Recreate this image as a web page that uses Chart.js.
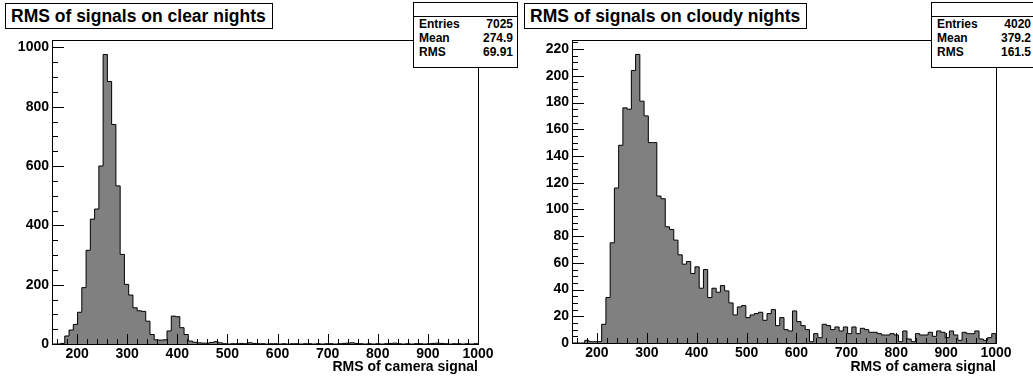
<!DOCTYPE html>
<html>
<head>
<meta charset="utf-8">
<script src="https://cdn.jsdelivr.net/npm/chart.js@4.4.1/dist/chart.umd.min.js"></script>
<style>
    body { margin: 0; background: #fff; width: 1033px; height: 378px; overflow: hidden; position: relative; font-family: 'Liberation Sans', Arial, sans-serif; }
    canvas { position: absolute; top: 0; }
    .title { position: absolute; top: 3px; height: 24px; line-height: 24px; padding: 0 6px 0 5px; border: 1px solid #000; background: #fff; font-weight: bold; font-size: 17.5px; white-space: nowrap; z-index: 2; }
    .stats { position: absolute; top: 2px; width: 103px; height: 64px; border: 1px solid #000; background: #fff; font-weight: bold; font-size: 12px; z-index: 2; }
    .stats .head { height: 13px; border-bottom: 1px solid #000; }
    .stats .row { display: flex; justify-content: space-between; height: 14px; line-height: 14px; padding: 0 4px 0 5px; }
</style>
</head>
<body>
<canvas id="clearChart" width="516" height="378" style="left:0"></canvas>
<canvas id="cloudyChart" width="513" height="378" style="left:520px"></canvas>

<div class="title" style="left:5px">RMS of signals on clear nights</div>
<div class="title" style="left:524px">RMS of signals on cloudy nights</div>

<div class="stats" style="left:413px">
    <div class="head"></div>
    <div class="row"><span>Entries</span><span>7025</span></div>
    <div class="row"><span>Mean</span><span>274.9</span></div>
    <div class="row"><span>RMS</span><span>69.91</span></div>
</div>
<div class="stats" style="left:931px">
    <div class="head"></div>
    <div class="row"><span>Entries</span><span>4020</span></div>
    <div class="row"><span>Mean</span><span>379.2</span></div>
    <div class="row"><span>RMS</span><span>161.5</span></div>
</div>

<script>
// Binning: 100 bins from 150 to 1000
const xMin = 150;
const binWidth = 8.5;

// Counts per bin
const clearCounts = [
    0, 0, 2, 27, 47, 66, 107, 190, 316, 421,
    455, 600, 976, 885, 740, 533, 302, 201, 165, 122,
    112, 110, 77, 32, 14, 13, 14, 44, 94, 92,
    55, 32, 10, 6, 4, 3, 3, 5, 8, 4,
    1, 0, 1, 1, 2, 1, 4, 2, 1, 1,
    0, 1, 1, 0, 1, 0, 1, 1, 0, 1,
    1, 0, 1, 0, 1, 1, 0, 1, 2, 3,
    4, 2, 1, 0, 1, 0, 1, 0, 1, 2,
    3, 1, 0, 1, 0, 1, 1, 0, 1, 2,
    3, 2, 1, 0, 1, 1, 0, 1, 0, 1
];
const cloudyCounts = [
    0, 0, 0, 2, 1, 1, 1, 14, 34, 75,
    116, 148, 176, 175, 204, 216, 181, 170, 150, 150,
    110, 108, 87, 85, 77, 66, 59, 61, 52, 57,
    41, 55, 34, 41, 38, 43, 39, 30, 21, 27,
    28, 19, 21, 22, 23, 17, 22, 25, 13, 19,
    10, 9, 24, 16, 13, 10, 1, 7, 4, 14,
    13, 10, 12, 9, 12, 7, 12, 7, 11, 10,
    8, 8, 7, 6, 6, 7, 6, 1, 9, 3,
    1, 7, 6, 6, 8, 5, 9, 8, 4, 9,
    6, 2, 8, 7, 7, 9, 3, 2, 4, 7
];

// Tick labels
const xTicks = [200, 300, 400, 500, 600, 700, 800, 900, 1000];
const clearYTicks = [0, 200, 400, 600, 800, 1000];
const cloudyYTicks = [0, 20, 40, 60, 80, 100, 120, 140, 160, 180, 200, 220];
const xTitle = 'RMS of camera signal';

const font = { family: "'Liberation Sans', Arial, sans-serif", size: 14, weight: 'bold' };

// ROOT style frame with inside tick marks
const rootFrame = {
    id: 'rootFrame',
    afterDraw(chart, args, opts) {
        const { ctx, chartArea: a, scales: { x, y } } = chart;
        ctx.save();
        ctx.strokeStyle = '#000';
        ctx.lineWidth = 1;
        ctx.beginPath();
        for (let v = 160; v <= 1000; v += 20) {
            const px = Math.round(x.getPixelForValue(v)) + 0.5;
            const len = v % 100 === 0 ? 10 : 5;
            ctx.moveTo(px, a.bottom);
            ctx.lineTo(px, a.bottom - len);
        }
        for (let v = 0; v <= y.max; v += opts.yMinor) {
            const py = Math.round(y.getPixelForValue(v)) + 0.5;
            const len = v % opts.yMajor === 0 ? 12 : 6;
            ctx.moveTo(a.left, py);
            ctx.lineTo(a.left + len, py);
        }
        ctx.stroke();
        ctx.strokeRect(Math.round(a.left) + 0.5, Math.round(a.top) + 0.5, Math.round(a.right - a.left), Math.round(a.bottom - a.top));
        ctx.restore();
    }
};

function drawHist(id, counts, yTicks, yMajor, yMinor, padRight, xHeight) {
    const points = counts.map((c, i) => ({ x: xMin + i * binWidth, y: c }));
    points.push({ x: xMin + counts.length * binWidth, y: 0 });

    new Chart(document.getElementById(id).getContext('2d'), {
        type: 'line',
        data: {
            datasets: [{
                data: points,
                stepped: true,
                fill: 'origin',
                backgroundColor: '#808080',
                borderColor: '#000',
                borderWidth: 1,
                pointRadius: 0
            }]
        },
        plugins: [rootFrame],
        options: {
            responsive: false,
            animation: false,
            layout: { padding: { top: 40, right: padRight, left: 0, bottom: 0 } },
            plugins: {
                legend: { display: false },
                tooltip: { enabled: false },
                rootFrame: { yMajor: yMajor, yMinor: yMinor }
            },
            scales: {
                x: {
                    type: 'linear',
                    min: xMin,
                    max: xMin + counts.length * binWidth,
                    afterBuildTicks: s => { s.ticks = xTicks.map(v => ({ value: v })); },
                    afterFit: s => { s.height = xHeight; },
                    grid: { display: false, drawTicks: false },
                    border: { display: false },
                    ticks: { color: '#000', font: font, padding: 2, maxRotation: 0, autoSkip: false, callback: v => String(v) },
                    title: { display: true, text: xTitle, align: 'end', color: '#000', font: font, padding: { top: 0, bottom: 2 } }
                },
                y: {
                    min: 0,
                    max: Math.max(...counts) * 1.05,
                    afterBuildTicks: s => { s.ticks = yTicks.map(v => ({ value: v })); },
                    afterFit: s => { s.width = 52; },
                    grid: { display: false, drawTicks: false },
                    border: { display: false },
                    ticks: { color: '#000', font: font, padding: 3, autoSkip: false, callback: v => String(v) }
                }
            }
        }
    });
}

drawHist('clearChart', clearCounts, clearYTicks, 200, 50, 38, 34);
drawHist('cloudyChart', cloudyCounts, cloudyYTicks, 20, 5, 37, 35);
</script>
</body>
</html>
